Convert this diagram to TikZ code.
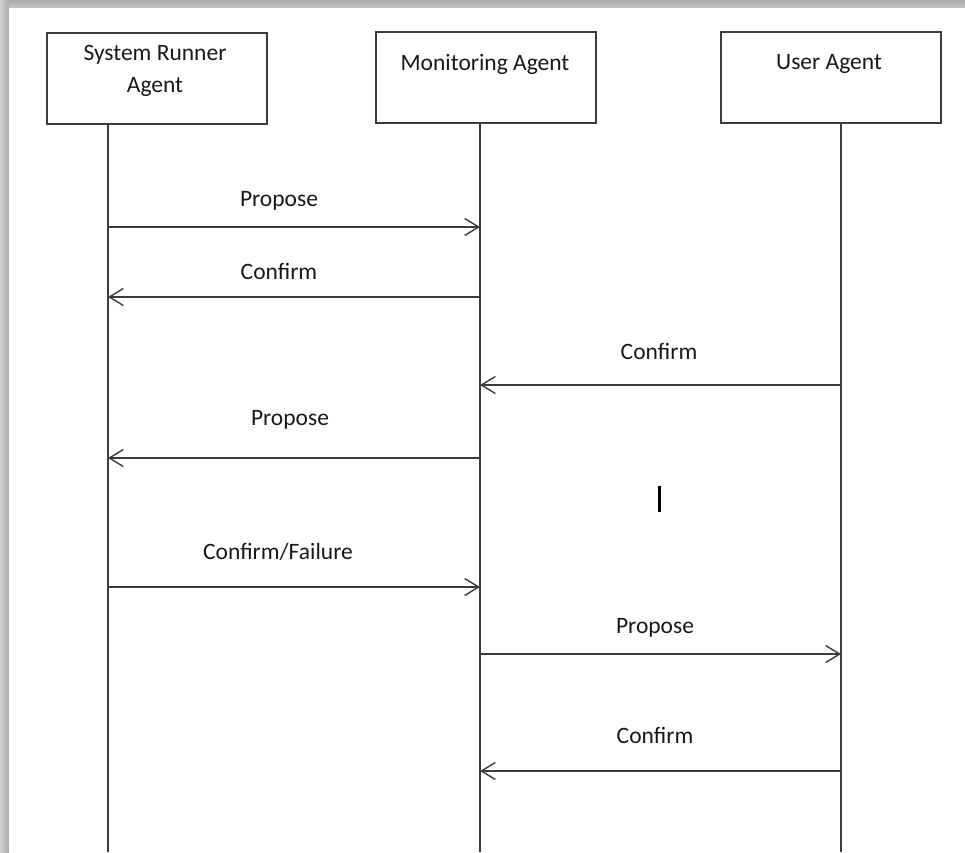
\documentclass[tikz,border=0pt]{standalone}
\usepackage{fontspec}
\setmainfont{Carlito}
\usetikzlibrary{arrows.meta}
\definecolor{linegray}{HTML}{3C3C3C}
\begin{document}
\begin{tikzpicture}[x=1pt,y=-1pt,
  actor/.style={draw=linegray,line width=2pt,minimum width=220pt,minimum height=91pt,
    inner sep=0pt,anchor=north west},
  lifeline/.style={draw=linegray,line width=1.8pt},
  msg/.style={draw=linegray,line width=1.4pt,-{Straight Barb[length=14pt,width=17pt,line width=1.4pt]}},
  lbl/.style={font=\fontsize{23.5}{32}\selectfont,inner sep=0pt,text=black!90}]
\useasboundingbox (0,0) rectangle (965,852);
\fill[white] (0,0) rectangle (965,852);
% soft page shadow along the top and left edges
\shade[top color=gray!65,bottom color=gray!45] (0,0) rectangle (965,8);
\shade[left color=gray!35,right color=gray!65] (0,0) rectangle (9,852);
\fill[white] (9,8) rectangle (965,852);

% actor boxes
\node[actor] (sra) at (46,32) {};
\node[actor] (ma) at (375,31) {};
\node[actor] (ua) at (720,31) {};
\node[lbl,align=center] (sratxt) at (155,71) {System Runner\\Agent};
\node[lbl] (matxt) at (485,64) {Monitoring Agent};
\node[lbl] (uatxt) at (829,64) {User Agent};

% lifelines
\coordinate (l1top) at (108,123);
\coordinate (l2top) at (480,122);
\coordinate (l3top) at (841,122);
\coordinate (l1bot) at (108,852);
\coordinate (l2bot) at (480,852);
\coordinate (l3bot) at (841,852);
\draw[lifeline] (l1top) -- (l1bot);
\draw[lifeline] (l2top) -- (l2bot);
\draw[lifeline] (l3top) -- (l3bot);

% message points on the lifelines
\coordinate (a1) at (108,227); \coordinate (b1) at (480,227);
\coordinate (a2) at (108,297); \coordinate (b2) at (480,297);
\coordinate (b3) at (480,385); \coordinate (c3) at (841,385);
\coordinate (a4) at (108,458); \coordinate (b4) at (480,458);
\coordinate (a5) at (108,587); \coordinate (b5) at (480,587);
\coordinate (b6) at (480,654); \coordinate (c6) at (841,654);
\coordinate (b7) at (480,771); \coordinate (c7) at (841,771);

% messages
\draw[msg] (a1) -- (b1);
\draw[msg] (b2) -- (a2);
\draw[msg] (c3) -- (b3);
\draw[msg] (b4) -- (a4);
\draw[msg] (a5) -- (b5);
\draw[msg] (b6) -- (c6);
\draw[msg] (c7) -- (b7);

% message labels
\node[lbl] (m1) at (279,201) {Propose};
\node[lbl] (m2) at (279,271) {Confirm};
\node[lbl] (m3) at (659,351) {Confirm};
\node[lbl] (m4) at (290,420) {Propose};
\node[lbl] (m5) at (278,552) {Confirm/Failure};
\node[lbl] (m6) at (655,628) {Propose};
\node[lbl] (m7) at (655,735) {Confirm};

% text cursor mark
\coordinate (cur1) at (659,486);
\coordinate (cur2) at (659,512);
\draw[black,line width=3pt] (cur1) -- (cur2);
\end{tikzpicture}
\end{document}
